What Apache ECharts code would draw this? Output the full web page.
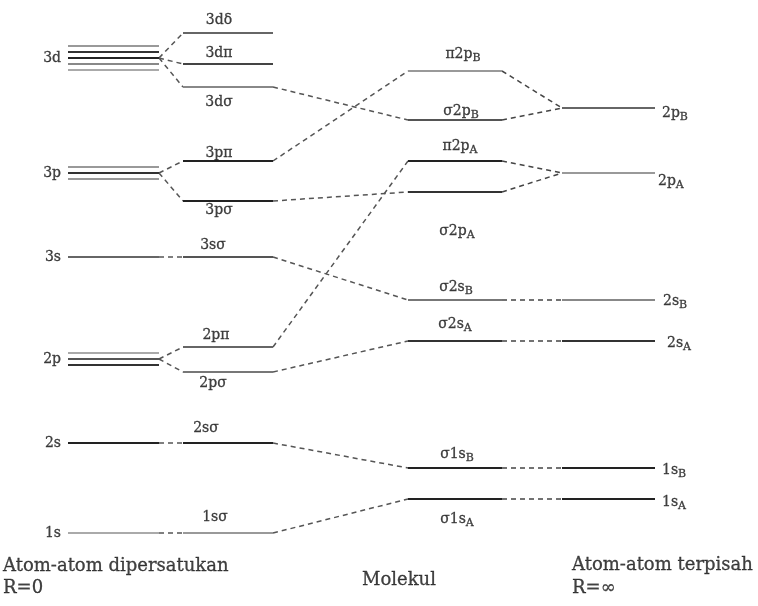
<!DOCTYPE html>
<html><head><meta charset="utf-8">
<script src="https://cdn.jsdelivr.net/npm/echarts/dist/echarts.min.js"></script>
<style>html,body{margin:0;padding:0;background:#fff}#c{width:758px;height:606px}</style>
</head><body><div id="c"></div><script>
// ---------- DATA (energy positions in diagram units, drawn downward = lower energy) ----------
// United atom (R = 0): degenerate level groups
const unitedNames = ['1s', '2s', '2p', '3s', '3p', '3d'];
const unitedLevels = [[533], [443], [353, 359, 365], [257], [167, 173, 179], [46, 52, 58, 64, 70]];
// United-atom orbitals split by symmetry
const splitNames = ['1sσ', '2sσ', '2pσ', '2pπ', '3sσ', '3pσ', '3pπ', '3dσ', '3dπ', '3dδ'];
const splitLevels = [533, 443, 372, 347, 257, 201, 161, 87, 64, 33];
const splitParent = [0, 1, 2, 2, 3, 4, 4, 5, 5, 5];
// Molecule
const molNames = ['σ1s{s|A}', 'σ1s{s|B}', 'σ2s{s|A}', 'σ2s{s|B}', 'σ2p{s|A}', 'π2p{s|A}', 'σ2p{s|B}', 'π2p{s|B}'];
const molLevels = [499, 468, 341, 300, 192, 161, 120, 71];
const splitToMol = [0, 1, 2, 5, 3, 4, 7, 6, null, null];
// Separated atoms (R = ∞)
const sepNames = ['1s{s|A}', '1s{s|B}', '2s{s|A}', '2s{s|B}', '2p{s|A}', '2p{s|B}'];
const sepLevels = [499, 468, 341, 300, 173, 108];
const molToSep = [0, 1, 2, 3, 4, 4, 5, 5];
// Column captions
const footTexts = ['Atom-atom dipersatukan', 'R=0', 'Molekul', 'Atom-atom terpisah', 'R=∞'];

// ---------- LAYOUT / STYLE ----------
const COL = { united: [68, 159], split: [183, 273], mol: [408, 502], sep: [562, 655] };
const unitedColors = [['#aaa'], ['#222'], ['#aaa', '#555', '#333'], ['#666'], ['#999', '#333', '#999'], ['#999', '#333', '#222', '#888', '#aaa']];
const splitColors = ['#999', '#222', '#777', '#666', '#555', '#222', '#222', '#888', '#444', '#666'];
const splitLabelX = [215, 206, 213, 216, 213, 219, 219, 219, 219, 219];
const splitLabelDy = [-16, -15, 11, -12, -12, 9, -8, 15, -11, -13];
const molColors = ['#222', '#222', '#333', '#777', '#333', '#222', '#555', '#999'];
const molLabelX = [457, 457, 455, 456, 457, 460, 461, 463];
const molLabelDy = [20, -14, -17, -13, 39, -15, -9, -17];
const sepColors = ['#222', '#222', '#333', '#888', '#999', '#666'];
const sepLabelX = [662, 662, 667, 663, 658, 662];
const sepLabelDy = [3, 2, 2, 1, 8, 5];
const footPos = [[3, 566, 'left'], [3, 588, 'left'], [362, 580, 'left'], [572, 565, 'left'], [572, 588, 'left']];
const FONT = 'DejaVu Serif';
const TEXT = '#111';

const levelSegs = [];
const dashSegs = [];
const labels = [];
const seg = (arr, x1, y1, x2, y2, color, width, dashed) => arr.push({
  coords: [[x1, y1], [x2, y2]],
  lineStyle: { color: color, width: width, type: dashed ? [5, 4] : 'solid' }
});
const mean = a => a.reduce((s, v) => s + v, 0) / a.length;

// United atom levels
unitedLevels.forEach((grp, i) => {
  grp.forEach((y, j) => seg(levelSegs, COL.united[0], y, COL.united[1], y, unitedColors[i][j], 2));
  labels.push({ value: [61, mean(grp)], text: unitedNames[i], align: 'right', size: 14 });
});
// Split levels + connectors from united atom
splitLevels.forEach((y, i) => {
  seg(levelSegs, COL.split[0], y, COL.split[1], y, splitColors[i], 2);
  const py = mean(unitedLevels[splitParent[i]]);
  seg(dashSegs, COL.united[1], py, COL.split[0], y, '#555', 1.5, true);
  labels.push({ value: [splitLabelX[i], y + splitLabelDy[i]], text: splitNames[i], align: 'center', size: 14 });
  const m = splitToMol[i];
  if (m !== null) seg(dashSegs, COL.split[1], y, COL.mol[0], molLevels[m], '#555', 1.5, true);
});
// Molecular levels + connectors to separated atoms
molLevels.forEach((y, i) => {
  seg(levelSegs, COL.mol[0], y, COL.mol[1], y, molColors[i], 2);
  labels.push({ value: [molLabelX[i], y + molLabelDy[i]], text: molNames[i], align: 'center', size: 14 });
  seg(dashSegs, COL.mol[1], y, COL.sep[0], sepLevels[molToSep[i]], '#444', 1.5, true);
});
// Separated atom levels
sepLevels.forEach((y, i) => {
  seg(levelSegs, COL.sep[0], y, COL.sep[1], y, sepColors[i], 2);
  labels.push({ value: [sepLabelX[i], y + sepLabelDy[i]], text: sepNames[i], align: 'left', size: 14 });
});
// Captions
footTexts.forEach((t, i) => labels.push({ value: [footPos[i][0], footPos[i][1]], text: t, align: footPos[i][2], size: 18 }));

const labelData = labels.map(l => ({
  value: l.value, text: l.text,
  label: { align: l.align, fontSize: l.size, lineHeight: l.size + 6 }
}));

const chart = echarts.init(document.getElementById('c'), null, { renderer: 'canvas' });
chart.setOption({
  animation: false,
  backgroundColor: '#fff',
  grid: { left: 0, right: 0, top: 0, bottom: 0 },
  xAxis: { type: 'value', min: 0, max: 758, show: false },
  yAxis: { type: 'value', min: 0, max: 606, inverse: true, show: false },
  series: [
    { type: 'lines', coordinateSystem: 'cartesian2d', polyline: false, silent: true, data: dashSegs, lineStyle: { opacity: 1 } },
    { type: 'lines', coordinateSystem: 'cartesian2d', polyline: false, silent: true, data: levelSegs, lineStyle: { opacity: 1 } },
    {
      type: 'scatter', symbolSize: 1, itemStyle: { color: 'rgba(0,0,0,0)' }, silent: true,
      data: labelData,
      label: {
        show: true, position: 'inside', verticalAlign: 'middle',
        fontFamily: FONT, color: TEXT, textBorderColor: TEXT, textBorderWidth: 0.3,
        formatter: p => p.data.text,
        rich: { s: { fontSize: 11, lineHeight: 7, verticalAlign: 'bottom', fontFamily: FONT, color: TEXT, textBorderColor: TEXT, textBorderWidth: 0.3 } }
      }
    }
  ]
});
</script></body></html>
